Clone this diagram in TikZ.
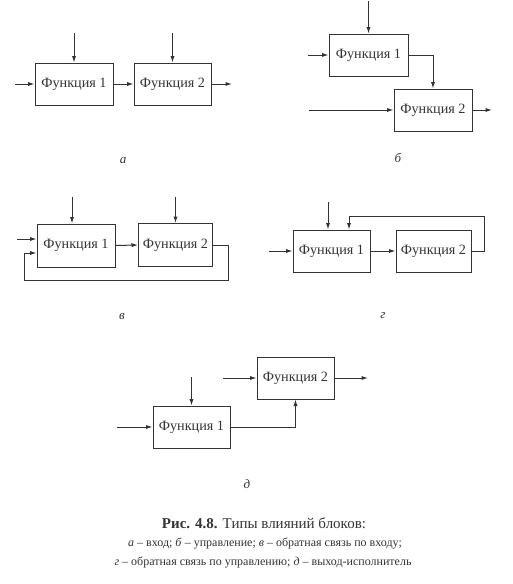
\documentclass[tikz,border=0pt]{standalone}
\usepackage{fontspec}
\setmainfont{Liberation Serif}
\usetikzlibrary{arrows.meta}
\definecolor{ink}{gray}{0.2}
\tikzset{
  fbox/.style={draw=ink, line width=1pt, minimum height=42pt, inner sep=0pt, font=\fontsize{14.2}{16}\selectfont, text=ink},
  conn/.style={draw=ink, line width=1pt, -{Latex[length=6.5pt,width=4.2pt]}},
  lbl/.style={font=\itshape\fontsize{13}{15}\selectfont, text=ink},
}
\begin{document}
\begin{tikzpicture}[x=1pt,y=-1pt]
\useasboundingbox (0,0) rectangle (513,584);
% ---------- a ----------
\node[fbox, minimum width=78pt] (A1) at (74,84) {Функция 1};
\node[fbox, minimum width=77pt] (A2) at (172.5,84) {Функция 2};
\coordinate (Aci1) at (74,33);
\coordinate (Aci2) at (172.5,33);
\coordinate (Ain) at (15,84);
\coordinate (Aout) at (232,84);
\draw[conn] (Aci1) -- (A1.north);
\draw[conn] (Aci2) -- (A2.north);
\draw[conn] (Ain) -- (A1.west);
\draw[conn] (A1.east) -- (A2.west);
\draw[conn] (A2.east) -- (Aout);
\node[lbl] (La) at (123,161) {а};
% ---------- b ----------
\node[fbox, minimum width=79pt] (B1) at (368.5,55) {Функция 1};
\node[fbox, minimum width=78pt] (B2) at (433,110) {Функция 2};
\coordinate (Bci) at (368.5,1);
\coordinate (Bin1) at (308,55);
\coordinate (Bin2) at (309,110);
\coordinate (Bout) at (492,110);
\draw[conn] (Bci) -- (B1.north);
\draw[conn] (Bin1) -- (B1.west);
\draw[conn] (B1.east) -| (B2.north);
\draw[conn] (Bin2) -- (B2.west);
\draw[conn] (B2.east) -- (Bout);
\node[lbl] (Lb) at (398,158) {б};
% ---------- v ----------
\node[fbox, minimum width=78pt, minimum height=43pt] (V1) at (76,245.5) {Функция 1};
\node[fbox, minimum width=74pt, minimum height=43pt] (V2) at (175.5,245) {Функция 2};
\coordinate (Vci1) at (72,197);
\coordinate (Vci2) at (175.5,197);
\coordinate (Vin) at (17,239);
\coordinate (Vfb1) at (228,245);
\coordinate (Vfb2) at (228,280);
\coordinate (Vfb3) at (24,280);
\coordinate (Vfb4) at (24,253);
\draw[conn] (Vci1) -- (Vci1 |- V1.north);
\draw[conn] (Vci2) -- (V2.north);
\draw[conn] (Vin) -- (Vin -| V1.west);
\draw[conn] (V1.east) -- (V2.west);
\draw[conn] (V2.east) -- (Vfb1) -- (Vfb2) -- (Vfb3) -- (Vfb4) -- (Vfb4 -| V1.west);
\node[lbl] (Lv) at (122,316) {в};
% ---------- g ----------
\node[fbox, minimum width=77pt] (G1) at (331.5,251) {Функция 1};
\node[fbox, minimum width=75pt] (G2) at (433.5,251) {Функция 2};
\coordinate (Gci) at (328,202);
\coordinate (Gin) at (269,251);
\coordinate (Gfb1) at (484,251);
\coordinate (Gfb2) at (484,216);
\coordinate (Gfb3) at (349,216);
\draw[conn] (Gci) -- (Gci |- G1.north);
\draw[conn] (Gin) -- (G1.west);
\draw[conn] (G1.east) -- (G2.west);
\draw[conn] (G2.east) -- (Gfb1) -- (Gfb2) -- (Gfb3) -- (Gfb3 |- G1.north);
\node[lbl] (Lg) at (383,316) {г};
% ---------- d ----------
\node[fbox, minimum width=77pt] (D1) at (191.5,427) {Функция 1};
\node[fbox, minimum width=77pt] (D2) at (295.5,378) {Функция 2};
\coordinate (Dci) at (191.5,377);
\coordinate (Din1) at (117,427);
\coordinate (Din2) at (223,378);
\coordinate (Dout) at (368,378);
\draw[conn] (Dci) -- (D1.north);
\draw[conn] (Din1) -- (D1.west);
\draw[conn] (D1.east) -| (D2.south);
\draw[conn] (Din2) -- (D2.west);
\draw[conn] (D2.east) -- (Dout);
\node[lbl] (Ld) at (247,484) {д};
% ---------- caption ----------
\node[text=ink, font=\fontsize{15}{17}\selectfont] (cap1) at (264,523) {\textbf{Рис. 4.8.} Типы влияний блоков:};
\node[text=ink, font=\fontsize{12}{14}\selectfont] (cap2) at (265,543) {\textit{а} – вход; \textit{б} – управление; \textit{в} – обратная связь по входу;};
\node[text=ink, font=\fontsize{12}{14}\selectfont] (cap3) at (263,562) {\textit{г} – обратная связь по управлению; \textit{д} – выход-исполнитель};
\end{tikzpicture}
\end{document}
